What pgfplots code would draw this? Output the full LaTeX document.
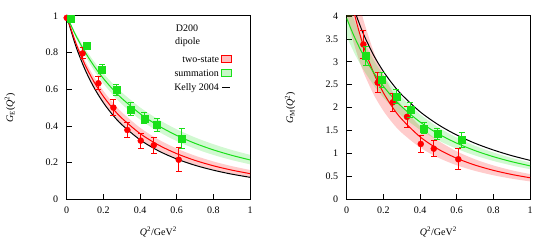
\documentclass[border=0pt]{standalone}
\usepackage{fontspec}
\setmainfont{Liberation Serif}
\usepackage{pgfplots}
\usepackage{pgfplotstable}
\pgfplotsset{compat=1.18}
\usepgfplotslibrary{fillbetween}
\definecolor{cred}{rgb}{1,0,0}
\definecolor{cgreen}{rgb}{0.1,0.88,0.1}

% G_E curves: x, Kelly, two-state (with band), summation (with band)
\pgfplotstableread{
x kel red redU redL grn grnU grnL
0 1 1 1 1 1 1 1
0.05 0.8350 0.8516 0.8653 0.8371 0.8936 0.9044 0.8825
0.1 0.7077 0.7339 0.7561 0.7109 0.8034 0.8220 0.7845
0.15 0.6075 0.6390 0.6664 0.6113 0.7261 0.7503 0.7020
0.2 0.5271 0.5614 0.5917 0.5312 0.6595 0.6876 0.6319
0.25 0.4617 0.4972 0.5289 0.4659 0.6016 0.6324 0.5718
0.3 0.4077 0.4433 0.4756 0.4120 0.5511 0.5836 0.5198
0.4 0.3247 0.3589 0.3906 0.3288 0.4673 0.5016 0.4351
0.5 0.2647 0.2965 0.3265 0.2685 0.4013 0.4357 0.3696
0.6 0.2200 0.2491 0.2770 0.2233 0.3484 0.3820 0.3178
0.7 0.1856 0.2122 0.2380 0.1887 0.3053 0.3376 0.2761
0.8 0.1588 0.1829 0.2066 0.1616 0.2697 0.3006 0.2422
0.9 0.1373 0.1593 0.1811 0.1399 0.2400 0.2693 0.2141
1 0.1200 0.1400 0.1600 0.1223 0.2149 0.2427 0.1907
}\GEcurves

% G_M curves
\pgfplotstableread{
x kel red redU redL grn grnU grnL
0 4.706 4.834 5.656 4.012 3.95 4.345 3.555
0.025 4.350 4.3417 5.080 3.604 3.7006 4.071 3.331
0.05 4.040 3.9209 4.587 3.254 3.4741 3.822 3.127
0.075 3.769 3.5585 4.163 2.954 3.2677 3.594 2.941
0.1 3.529 3.2441 3.796 2.693 3.0793 3.387 2.771
0.15 3.122 2.7285 3.192 2.265 2.7481 3.023 2.473
0.2 2.791 2.3267 2.722 1.931 2.4676 2.714 2.221
0.25 2.516 2.0075 2.349 1.666 2.2280 2.451 2.005
0.3 2.283 1.7498 2.047 1.452 2.0216 2.224 1.819
0.4 1.911 1.3636 1.595 1.132 1.6865 1.855 1.518
0.5 1.627 1.0925 1.278 0.907 1.4283 1.571 1.285
0.6 1.403 0.8949 1.047 0.743 1.2251 1.348 1.103
0.7 1.223 0.7464 0.873 0.620 1.0624 1.169 0.956
0.8 1.076 0.6320 0.739 0.525 0.9301 1.023 0.837
0.9 0.953 0.5421 0.634 0.450 0.8210 0.903 0.739
1 0.850 0.4700 0.550 0.390 0.7301 0.803 0.657
}\GMcurves

\pgfplotstableread{
x y e
0.087 0.796 0.03
0.173 0.633 0.035
0.255 0.500 0.045
0.331 0.378 0.042
0.404 0.320 0.040
0.475 0.295 0.045
0.611 0.216 0.065
}\GEred

\pgfplotstableread{
x y e
0.107 0.840 0.018
0.193 0.709 0.025
0.271 0.596 0.030
0.349 0.491 0.035
0.424 0.442 0.030
0.493 0.405 0.035
0.627 0.333 0.055
}\GEgreen

\pgfplotstableread{
x y e
0.091 3.380 0.30
0.169 2.545 0.22
0.251 2.116 0.20
0.329 1.800 0.23
0.404 1.207 0.19
0.475 1.105 0.18
0.609 0.873 0.23
}\GMred

\pgfplotstableread{
x y e
0.105 3.127 0.20
0.191 2.600 0.17
0.271 2.240 0.15
0.347 1.950 0.17
0.422 1.550 0.12
0.494 1.425 0.12
0.627 1.290 0.16
}\GMgreen

\pgfplotsset{
  myaxis/.style={
    width=183.3pt, height=183.3pt, scale only axis,
    xmin=0, xmax=1,
    axis line style={line width=1pt},
    tick style={line width=0.8pt, black},
    tick align=inside, tick pos=left,
    major tick length=5pt,
    /pgf/number format/assume math mode=true,
    clip mode=individual,
    xtick={0,0.2,0.4,0.6,0.8,1},
    xticklabels={0,0.2,0.4,0.6,0.8,1},
    xticklabel style={yshift=-4pt},
    yticklabel style={xshift=-5pt},
    font=\fontsize{10}{12}\selectfont,
    xlabel={\textit{Q}\textsuperscript{2}/GeV\textsuperscript{2}},
    xlabel style={at={(axis description cs:0.5,-0.178)}, anchor=center},
    ylabel style={at={(axis description cs:-0.309,0.5)}, anchor=center},
  },
  errstyle/.style={
    error bars/y dir=both, error bars/y explicit,
    error bars/error bar style={line width=0.9pt},
    error bars/error mark options={mark size=3pt, line width=0.9pt, rotate=90},
  },
}

\begin{document}
\begin{tikzpicture}

% ---------------- G_E -----------------
\begin{axis}[myaxis, at={(66.7pt,45.7pt)}, anchor=south west,
  ymin=0, ymax=1,
  ytick={0,0.2,0.4,0.6,0.8,1},
  yticklabels={0,0.2,0.4,0.6,0.8,1},
  ylabel={\textit{G}\textsubscript{E}(\textit{Q}\textsuperscript{2})},
  legend plot pos=right,
  legend style={at={(0.918,0.81)}, anchor=north east, draw=none, fill=none,
    legend cell align=right, row sep=1pt,
    nodes={inner sep=2pt, text height=7pt, text depth=2pt, font=\fontsize{10}{12}\selectfont}},
]
\addplot[draw=none, smooth, name path=reU, forget plot] table[x=x,y=redU] {\GEcurves};
\addplot[draw=none, smooth, name path=reL, forget plot] table[x=x,y=redL] {\GEcurves};
\addplot[fill=cred, fill opacity=0.2, draw=none, forget plot] fill between[of=reU and reL];
\addplot[draw=none, smooth, name path=geU, forget plot] table[x=x,y=grnU] {\GEcurves};
\addplot[draw=none, smooth, name path=geL, forget plot] table[x=x,y=grnL] {\GEcurves};
\addplot[fill=cgreen, fill opacity=0.2, draw=none, forget plot] fill between[of=geU and geL];
\addplot[black, line width=1pt, smooth, forget plot] table[x=x,y=kel] {\GEcurves};
\addplot[cred, line width=1pt, smooth, forget plot] table[x=x,y=red] {\GEcurves};
\addplot[cgreen, line width=1pt, smooth, forget plot] table[x=x,y=grn] {\GEcurves};
\addplot[forget plot, cred, only marks, mark=*, mark size=3pt, errstyle] table[x=x,y=y,y error=e] {\GEred};
\addplot[forget plot, cred, only marks, mark=*, mark size=3pt] coordinates {(0,0.99)};
\addplot[forget plot, cgreen, only marks, mark=square*, mark size=3.5pt, errstyle] table[x=x,y=y,y error=e] {\GEgreen};
\addplot[forget plot, cgreen, only marks, mark=square*, mark size=3.5pt] coordinates {(0.02,0.985)};
\node[anchor=base] at (axis cs:0.656,0.914) {D200};
\node[anchor=base] at (axis cs:0.660,0.846) {dipole};
\addlegendimage{legend image code/.code={\draw[draw=red, fill=red!25, line width=0.8pt] (0pt,-3pt) rectangle (10pt,4pt);}}
\addlegendentry{two-state}
\addlegendimage{legend image code/.code={\draw[draw=cgreen, fill=cgreen!25, line width=0.8pt] (0pt,-3pt) rectangle (10pt,4pt);}}
\addlegendentry{summation}
\addlegendimage{legend image code/.code={\draw[black, line width=1pt] (1pt,0.5pt)--(9pt,0.5pt);}}
\addlegendentry{Kelly 2004}
\end{axis}

% ---------------- G_M -----------------
\begin{axis}[myaxis, at={(346.7pt,45.7pt)}, anchor=south west,
  ymin=0, ymax=4,
  ytick={0,0.5,1,1.5,2,2.5,3,3.5,4},
  yticklabels={0,0.5,1,1.5,2,2.5,3,3.5,4},
  ylabel={\textit{G}\textsubscript{M}(\textit{Q}\textsuperscript{2})},
]
\addplot[draw=none, smooth, name path=rmU, forget plot] table[x=x,y=redU] {\GMcurves};
\addplot[draw=none, smooth, name path=rmL, forget plot] table[x=x,y=redL] {\GMcurves};
\addplot[fill=cred, fill opacity=0.2, draw=none, forget plot] fill between[of=rmU and rmL];
\addplot[draw=none, smooth, name path=gmU, forget plot] table[x=x,y=grnU] {\GMcurves};
\addplot[draw=none, smooth, name path=gmL, forget plot] table[x=x,y=grnL] {\GMcurves};
\addplot[fill=cgreen, fill opacity=0.2, draw=none, forget plot] fill between[of=gmU and gmL];
\addplot[black, line width=1pt, smooth, forget plot] table[x=x,y=kel] {\GMcurves};
\addplot[cred, line width=1pt, smooth, forget plot] table[x=x,y=red] {\GMcurves};
\addplot[cgreen, line width=1pt, smooth, forget plot] table[x=x,y=grn] {\GMcurves};
\addplot[forget plot, cred, only marks, mark=*, mark size=3pt, errstyle] table[x=x,y=y,y error=e] {\GMred};
\addplot[forget plot, cgreen, only marks, mark=square*, mark size=3.5pt, errstyle] table[x=x,y=y,y error=e] {\GMgreen};
\end{axis}
\pgfresetboundingbox
\path[use as bounding box] (0,0) rectangle (560pt,245pt);
\end{tikzpicture}
\end{document}
